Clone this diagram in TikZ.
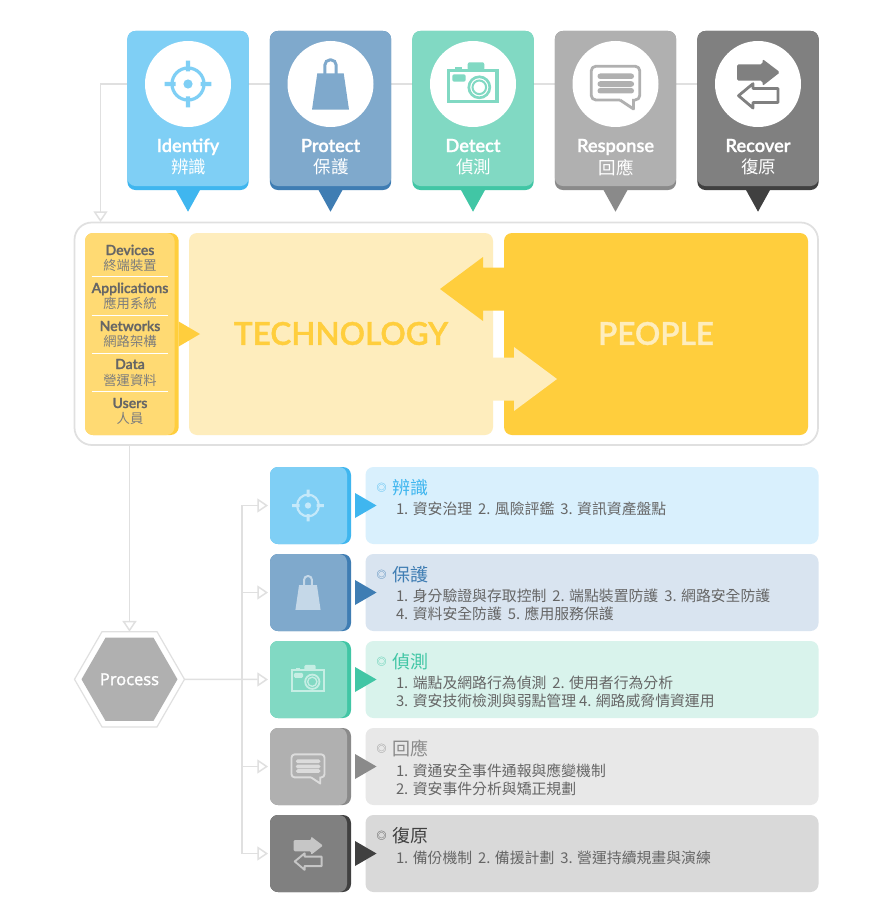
\documentclass[tikz,border=0pt]{standalone}
\usepackage{fontspec}
\setmainfont[BoldFont={Lato Semibold},BoldFeatures={FakeBold=1.2}]{Lato}
\newfontfamily\cjk{Noto Sans CJK TC}
\newfontfamily\opensans[UprightFeatures={FakeBold=1.8}]{Open Sans}
\usetikzlibrary{arrows.meta,shapes.geometric,calc}
\pgfdeclarelayer{paper}
\pgfdeclarelayer{bg}
\pgfsetlayers{paper,bg,main}
\definecolor{Lblue}{HTML}{7FCFF5}\definecolor{Dblue}{HTML}{3FB6EF}\definecolor{Pblue}{HTML}{D9F0FD}
\definecolor{Lnavy}{HTML}{7FA9CC}\definecolor{Dnavy}{HTML}{3F7DB3}\definecolor{Pnavy}{HTML}{D9E4F0}
\definecolor{Lteal}{HTML}{81D9C3}\definecolor{Dteal}{HTML}{41C6A5}\definecolor{Pteal}{HTML}{D9F3EC}
\definecolor{Lgray}{HTML}{B0B0B0}\definecolor{Dgray}{HTML}{8A8A8A}\definecolor{Pgray}{HTML}{E8E8E8}
\definecolor{Ldark}{HTML}{808080}\definecolor{Ddark}{HTML}{404040}\definecolor{Pdark}{HTML}{D9D9D9}
\definecolor{Yel}{HTML}{FFCE3D}\definecolor{YelM}{HTML}{FFDA73}\definecolor{YelP}{HTML}{FEEDBD}
\definecolor{Flow}{HTML}{E0E0E0}\definecolor{Txt}{HTML}{666666}
\newcommand{\fsz}[1]{\pgfmathsetmacro\fszv{#1*0.75}\fontsize{\fszv pt}{\fszv pt}\selectfont}
\newcommand{\nx}{\hspace{2pt}}
\newcommand{\ny}{\hspace{-0.3pt}}
\tikzset{
  rb/.style={draw=none,rectangle,rounded corners=6pt,inner sep=0pt,outer sep=0pt},
  txt/.style={inner sep=0pt,outer sep=0pt},
  flow/.style={draw=Flow,line width=1.1pt},
  flowtip/.style={flow,-{Triangle[fill=white,length=8pt,width=10.5pt]}},
}
\newcommand{\rbox}[6][]{%
  \pgfmathsetmacro\rcx{(#3+#5)/2}\pgfmathsetmacro\rcy{(#4+#6)/2}%
  \pgfmathsetmacro\rw{(#5-#3)*0.75}\pgfmathsetmacro\rh{(#6-#4)*0.75}%
  \node[rb,minimum width=\rw pt,minimum height=\rh pt,#1] (#2) at (\rcx,\rcy) {};}
% icons: #1 cx, #2 cy, #3 scale, #4 colour
\newcommand{\icontarget}[4]{\begin{scope}[shift={(#1,#2)},scale=#3]
  \pgfmathsetmacro\lw{#3*2.4}
  \draw[#4,line width=\lw pt] (0,0) circle[radius=16];
  \fill[#4] (0,0) circle[radius=4.6];
  \fill[#4] (-2.2,-23.3) rectangle (2.2,-12.5) (-2.2,12.5) rectangle (2.2,23.3)
            (-23.3,-2.2) rectangle (-12.5,2.2) (12.5,-2.2) rectangle (23.3,2.2);
\end{scope}}
\newcommand{\iconbag}[4]{\begin{scope}[shift={(#1,#2)},scale=#3]
  \pgfmathsetmacro\lw{#3*2.2}
  \draw[#4,line width=\lw pt,rounded corners={#3*4pt}] (-5.7,-9) -- (-5.7,-24.2) -- (5.7,-24.2) -- (5.7,-9);
  \fill[#4] (-13.2,-10.7) -- (13.2,-10.7) -- (18.5,25.7) -- (-18.5,25.7) -- cycle;
\end{scope}}
\newcommand{\iconcam}[4]{\begin{scope}[shift={(#1,#2)},scale=#3]
  \pgfmathsetmacro\lw{#3*2.3}\pgfmathsetmacro\lwb{#3*1.5}\pgfmathsetmacro\lwc{#3*2}
  \draw[#4,line width=\lw pt] (-24.2,-13.5) rectangle (24,17.5);
  \fill[#4,rounded corners={#3*1.5pt}] (-5.3,-21.7) rectangle (11.3,-13.5);
  \fill[#4] (-18,-17.3) rectangle (-11.3,-13.5);
  \fill[#4,rounded corners={#3*1.5pt}] (-20.7,-9.7) rectangle (-7.3,-2.3);
  \draw[#4,line width=\lwc pt] (6.3,3.3) circle[radius=10.5];
  \draw[#4,line width=\lwb pt] (6.3,3.3) circle[radius=6.8];
\end{scope}}
\newcommand{\iconchat}[4]{\begin{scope}[shift={(#1,#2)},scale=#3]
  \pgfmathsetmacro\lw{#3*2.1}
  \draw[#4,line width=\lw pt,line join=round,rounded corners={#3*3.5pt}]
     (4.5,16) -- (-24.3,16) -- (-24.3,-17.8) -- (24.3,-17.8) -- (24.3,16) -- (19,16);
  \draw[#4,line width=\lw pt,line join=round] (4.5,16) -- (18,25) -- (18,15);
  \fill[#4,rounded corners={#3*2pt}] (-18,-10.5) rectangle (18.5,-5)
     (-18,-2.8) rectangle (18.5,2.8) (-18,4) rectangle (18.5,9.5);
\end{scope}}
\newcommand{\iconswap}[4]{\begin{scope}[shift={(#1,#2)},scale=#3]
  \pgfmathsetmacro\lw{#3*2.1}
  \fill[#4,rounded corners={#3*1.2pt}] (-21,-19.7) -- (4.5,-19.7) -- (4.5,-25) -- (22,-11.7) -- (4.5,2) -- (4.5,-3.3) -- (-21,-3.3) -- cycle;
  \draw[white,line width=\lw pt,line join=round,fill=white] (20,4.5) -- (-5,4.5) -- (-5,-0.3) -- (-19.5,11.7) -- (-5,24) -- (-5,18.5) -- (20,18.5) -- cycle;
  \draw[#4,line width=\lw pt,line join=round] (20,4.5) -- (-5,4.5) -- (-5,-0.3) -- (-19.5,11.7) -- (-5,24) -- (-5,18.5) -- (20,18.5) -- cycle;
\end{scope}}
\newcommand{\iconswapsmall}[4]{\begin{scope}[shift={(#1,#2)},scale=#3]
  \pgfmathsetmacro\lw{#3*2.1}
  \fill[#4,rounded corners={#3*1.2pt}] (-21,-19.7) -- (4.5,-19.7) -- (4.5,-25) -- (22,-11.7) -- (4.5,2) -- (4.5,-3.3) -- (-21,-3.3) -- cycle;
  \draw[#4,line width=\lw pt,line join=round] (20,4.5) -- (-5,4.5) -- (-5,-0.3) -- (-19.5,11.7) -- (-5,24) -- (-5,18.5) -- (20,18.5) -- cycle;
\end{scope}}
% top cards: #1 id, #2 cx, #3 light, #4 dark, #5 en, #6 zh, #7 icon macro
\newcommand{\topcard}[7]{%
  \pgfmathsetmacro\xa{#2-60.6}\pgfmathsetmacro\xb{#2+60.6}\pgfmathsetmacro\xz{#2+0.5}%
  \rbox[fill=#4]{c#1}{\xa}{31}{\xb}{190}%
  \rbox[fill=#3]{cl#1}{\xa}{31}{\xb}{186}%
  \fill[#4] ($(c#1.south)+(-12,0)$) -- ($(c#1.south)+(12,0)$) -- ($(c#1.south)+(0,21.7)$) -- cycle;
  \node[circle,fill=white,draw=none,minimum size=64.5pt,inner sep=0pt,outer sep=0pt] (i#1) at (#2,84) {};
  #7{#2}{84}{1}{#3}
  \node[txt,anchor=base,text=white,font=\fsz{18.2}\bfseries] (en#1) at (#2,152) {#5};
  \node[txt,text=white,font=\fsz{17.5}\cjk] (zh#1) at (\xz,167.3) {#6};
}
% lower rows: #1 id, #2 top, #3 light, #4 dark, #5 pale, #6 icon macro, #7 title
\newcommand{\lowrow}[7]{%
  \pgfmathsetmacro\yb{#2+77}\pgfmathsetmacro\yc{#2+38.5}\pgfmathsetmacro\yt{#2+20.5}%
  \rbox[fill=#5]{p#1}{365.5}{#2}{818.5}{\yb}%
  \rbox[fill=#4]{b#1}{270}{#2}{351}{\yb}%
  \rbox[fill=#3]{bl#1}{270}{#2}{347}{\yb}%
  \pgfmathsetmacro\yu{\yc-12.5}\pgfmathsetmacro\yd{\yc+12.5}%
  \fill[#4] (355,\yu) -- (376.5,\yc) -- (355,\yd) -- cycle;
  #6{308}{\yc}{0.68}{#3!45!white}
  \node[txt,text=#4,font=\fsz{10}\cjk] (m#1) at (381.5,\yt) {◎};
  \node[txt,anchor=west,text=#4,font=\fsz{18}\cjk] (t#1) at (392,\yt) {#7};
}
\newcommand{\bodyline}[3]{\node[txt,anchor=west,text=Txt,font=\fsz{14.85}\cjk] (#1) at (396,#2) {#3};}
\newcommand{\listitem}[5]{%
  \node[txt,anchor=base,text=Txt,font=\fsz{14}\bfseries] (le#1) at (130,#2) {#4};
  \node[txt,text=Txt!85!white,font=\fsz{13.3}\cjk] (lz#1) at (130,#3) {#5};
}
\begin{document}
\begin{tikzpicture}[x=0.75pt,y=-0.75pt]
\useasboundingbox (0,0) rectangle (893,913);
\begin{pgfonlayer}{paper}
  \fill[white] (0,0) rectangle (893,913);
\end{pgfonlayer}

% top row
\topcard{1}{188}{Lblue}{Dblue}{Identify}{辨識}{\icontarget}
\topcard{2}{330.5}{Lnavy}{Dnavy}{Protect}{保護}{\iconbag}
\topcard{3}{473}{Lteal}{Dteal}{Detect}{偵測}{\iconcam}
\topcard{4}{615.5}{Lgray}{Dgray}{Response}{回應}{\iconchat}
\topcard{5}{758}{Ldark}{Ddark}{Recover}{復原}{\iconswap}

% frame
\rbox[draw=Flow,line width=1.3pt,fill=white,rounded corners=13pt]{frame}{74.5}{222.5}{818}{445}
\rbox[fill=Yel]{list}{85}{233}{178.7}{435}
\rbox[fill=YelM]{listl}{85}{233}{174.5}{435}
\rbox[fill=YelP]{tech}{189}{233}{493}{435}
\rbox[fill=Yel]{people}{504}{233}{808}{435}

% list
\listitem{1}{255}{265}{Devices}{終端裝置}
\listitem{2}{293}{303}{Applications}{應用系統}
\listitem{3}{331}{341}{Networks}{網路架構}
\listitem{4}{369}{380}{Data}{營運資料}
\listitem{5}{408}{418}{Users}{人員}
\draw[white,line width=0.75pt] (91.5,276.5) -- (168,276.5) (91.5,315) -- (168,315) (91.5,353) -- (168,353) (91.5,391.5) -- (168,391.5);

% block arrows
\fill[Yel] (178.7,321.5) -- (200,334) -- (178.7,346.5) -- cycle;
\node[txt,text=Yel,font=\fsz{31.5}\bfseries] (techt) at (341,333.5) {TECHNOLOGY};
\node[txt,text=YelP,font=\fsz{31.5}\bfseries] (peoplet) at (656,333.5) {PEOPLE};
\fill[Yel] (504,267.5) -- (483,267.5) -- (483,257) -- (440,289) -- (483,321) -- (483,310.5) -- (504,310.5) -- cycle;
\fill[YelP] (493,357.5) -- (514,357.5) -- (514,347) -- (557,379) -- (514,411) -- (514,400.5) -- (493,400.5) -- cycle;

% lower rows
\lowrow{1}{467}{Lblue}{Dblue}{Pblue}{\icontarget}{辨識}
\bodyline{a1}{508.5}{1. 資安治理\nx{} 2. 風險評鑑\nx{} 3. 資訊資產盤點}
\lowrow{2}{554}{Lnavy}{Dnavy}{Pnavy}{\iconbag}{保護}
\bodyline{a2}{595.5}{1. 身分驗證與存取控制\nx{} 2. 端點裝置防護\nx{} 3. 網路安全防護}
\bodyline{a3}{614}{4. 資料安全防護\nx{} 5. 應用服務保護}
\lowrow{3}{641}{Lteal}{Dteal}{Pteal}{\iconcam}{偵測}
\bodyline{a4}{682.5}{1. 端點及網路行為偵測\nx{} 2. 使用者行為分析}
\bodyline{a5}{700.5}{3. 資安技術檢測與弱點管理\ny{} 4. 網路威脅情資運用}
\lowrow{4}{728}{Lgray}{Dgray}{Pgray}{\iconchat}{回應}
\bodyline{a6}{770.5}{1. 資通安全事件通報與應變機制}
\bodyline{a7}{789}{2. 資安事件分析與矯正規劃}
\lowrow{5}{815}{Ldark}{Ddark}{Pdark}{\iconswapsmall}{復原}
\bodyline{a8}{857.5}{1. 備份機制\nx{} 2. 備援計劃\nx{} 3. 營運持續規畫與演練}

% process hexagon
\node[regular polygon,regular polygon sides=6,minimum size=82.5pt,inner sep=0pt,outer sep=0pt,draw=Flow,line width=0.9pt,fill=white] (hexo) at (129.5,679.3) {};
\node[regular polygon,regular polygon sides=6,minimum size=72pt,inner sep=0pt,outer sep=0pt,fill=Lgray] (hexi) at (129.5,679.3) {};
\node[txt,text=white,font=\fsz{16.5}\opensans] (proc) at (129.5,679.3) {Process};

% connectors
\coordinate (drop) at (100.5,222);
\coordinate (bus) at (242,679.5);
\begin{pgfonlayer}{bg}
  \draw[flow] (i1) -- (i2);
  \draw[flow] (i2) -- (i3);
  \draw[flow] (i3) -- (i4);
  \draw[flow] (i4) -- (i5);
  \draw[flowtip] (c1.west |- i1) -| (drop);
  \draw[flowtip] (frame.south -| hexo) -- (hexo.north);
  \draw[flowtip,shorten >=1.5pt] (hexo.east) -- (b3.west);
  \draw[flowtip,shorten >=1.5pt] (bus) |- (b1.west);
  \draw[flowtip,shorten >=1.5pt] (bus) |- (b2.west);
  \draw[flowtip,shorten >=1.5pt] (bus) |- (b4.west);
  \draw[flowtip,shorten >=1.5pt] (bus) |- (b5.west);
\end{pgfonlayer}
\end{tikzpicture}
\end{document}
